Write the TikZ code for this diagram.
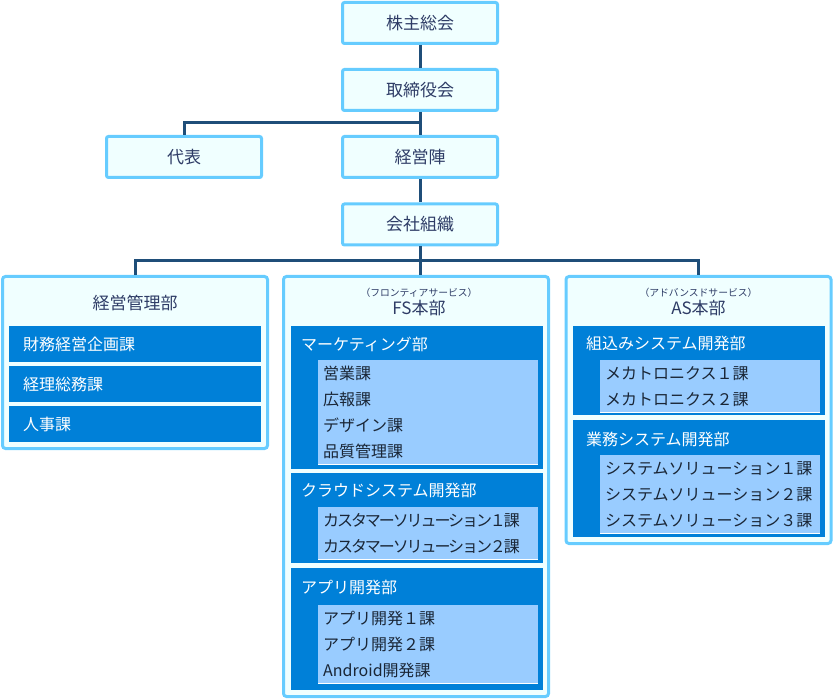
\documentclass[tikz,border=0pt]{standalone}
\usepackage{fontspec}
\setmainfont{Noto Sans CJK JP}
\usetikzlibrary{positioning}
\definecolor{boxedge}{HTML}{66CCFF}
\definecolor{boxfill}{HTML}{F0FFFF}
\definecolor{deptfill}{HTML}{0080D8}
\definecolor{itemfill}{HTML}{99CCFF}
\definecolor{linkcol}{HTML}{1F4E79}
\definecolor{headtext}{HTML}{2E3C66}
\definecolor{itemtext}{HTML}{1A2636}
\tikzset{topbox/.style={draw=boxedge,fill=boxfill,line width=3pt,rounded corners=2pt,minimum width=155pt,minimum height=41pt,inner sep=0pt,text=headtext,font=\fontsize{17}{17}\selectfont}}
\tikzset{hqbox/.style={draw=boxedge,fill=boxfill,line width=3pt,rounded corners=3pt,minimum width=265pt,inner sep=0pt}}
\tikzset{hqlabel/.style={text=headtext,inner sep=0pt,font=\fontsize{17}{17}\selectfont}}
\tikzset{hqnote/.style={text=headtext,inner sep=0pt,font=\fontsize{9.8}{9.8}\selectfont}}
\tikzset{bar/.style={fill=deptfill,anchor=north west,text width=224pt,inner xsep=14pt,inner ysep=0pt,minimum height=36pt,align=left,text=white,font=\fontsize{16}{16}\selectfont}}
\tikzset{dept/.style={fill=deptfill,minimum width=252pt,anchor=north west,inner sep=0pt}}
\tikzset{deptlabel/.style={anchor=west,text=white,inner sep=0pt,font=\fontsize{16}{16}\selectfont}}
\tikzset{item/.style={fill=itemfill,anchor=north west,text width=210pt,inner xsep=5pt,inner ysep=0pt,minimum height=26pt,align=left,text=itemtext,font=\fontsize{16}{16}\selectfont,
    append after command={(\tikzlastnode.south west) edge[draw=white,line width=1pt] (\tikzlastnode.south east)}}}
\tikzset{tightitem/.style={item,font=\fontsize{16}{16}\selectfont\addfontfeatures{LetterSpace=-13}}}
\tikzset{link/.style={draw=linkcol,line width=3pt}}

\begin{document}
\begin{tikzpicture}[x=1pt,y=-1pt]
  \useasboundingbox (0,0) rectangle (834,700);

  % top of the chart
  \node[topbox] (kabu) at (420,23) {株主総会};
  \node[topbox] (tori) at (420,90) {取締役会};
  \node[topbox] (daihyo) at (184,157) {代表};
  \node[topbox] (keiei) at (420,157) {経営陣};
  \node[topbox] (kaisha) at (420,224.5) {会社組織};

  \coordinate (bus1) at (420,123);
  \coordinate (bus2) at (420,261);

  \draw[link] (kabu) -- (tori);
  \draw[link] (tori) -- (keiei);
  \draw[link] (bus1) -| (daihyo.north);
  \draw[link] (keiei) -- (kaisha);

  % headquarters
  \node[hqbox,minimum height=172pt] (kanri) at (135,362.5) {};
  \node[hqbox,minimum height=420pt] (fs) at (416,486.5) {};
  \node[hqbox,minimum height=267pt] (as) at (698.5,410) {};

  \draw[link] (kaisha) -- (kaisha |- fs.north);
  \draw[link] (kanri.north) |- (bus2) -| (as.north);

  \node[hqlabel] (kanrihead) at (135,303) {経営管理部};
  \foreach \t [count=\i from 0] in {財務経営企画課,経理総務課,人事課}
    \node[bar] (kanri\i) at (9,326+40*\i) {\t};

  \node[hqnote] (fsnote) at (419,293) {（フロンティアサービス）};
  \node[hqlabel] (fshead) at (419,308) {FS本部};
  \node[hqnote] (asnote) at (698.5,293) {（アドバンスドサービス）};
  \node[hqlabel] (ashead) at (698.5,308) {AS本部};

  % FS departments
  \node[dept,minimum height=143pt] (mkt) at (291,326) {};
  \node[dept,minimum height=90pt] (cloud) at (291,473) {};
  \node[dept,minimum height=122pt] (app) at (291,568) {};
  \node[deptlabel] (mkthead) at (301,344) {マーケティング部};
  \node[deptlabel] (cloudhead) at (301,490) {クラウドシステム開発部};
  \node[deptlabel] (apphead) at (301,587) {アプリ開発部};
  \foreach \t [count=\i from 0] in {営業課,広報課,デザイン課,品質管理課}
    \node[item] (mkt\i) at (318,360+26*\i) {\t};
  \foreach \t [count=\i from 0] in {カスタマーソリューション１課,カスタマーソリューション２課}
    \node[tightitem] (cloud\i) at (318,507+26*\i) {\t};
  \foreach \t [count=\i from 0] in {アプリ開発１課,アプリ開発２課,Android開発課}
    \node[item] (app\i) at (318,605+26*\i) {\t};

  % AS departments
  \node[dept,minimum height=89pt] (embed) at (573,326) {};
  \node[dept,minimum height=117pt] (biz) at (573,420) {};
  \node[deptlabel] (embedhead) at (586,343) {組込みシステム開発部};
  \node[deptlabel] (bizhead) at (586,439) {業務システム開発部};
  \foreach \t [count=\i from 0] in {メカトロニクス１課,メカトロニクス２課}
    \node[item] (embed\i) at (600,360+26*\i) {\t};
  \foreach \t [count=\i from 0] in {システムソリューション１課,システムソリューション２課,システムソリューション３課}
    \node[item] (biz\i) at (600,455+26*\i) {\t};
\end{tikzpicture}
\end{document}
